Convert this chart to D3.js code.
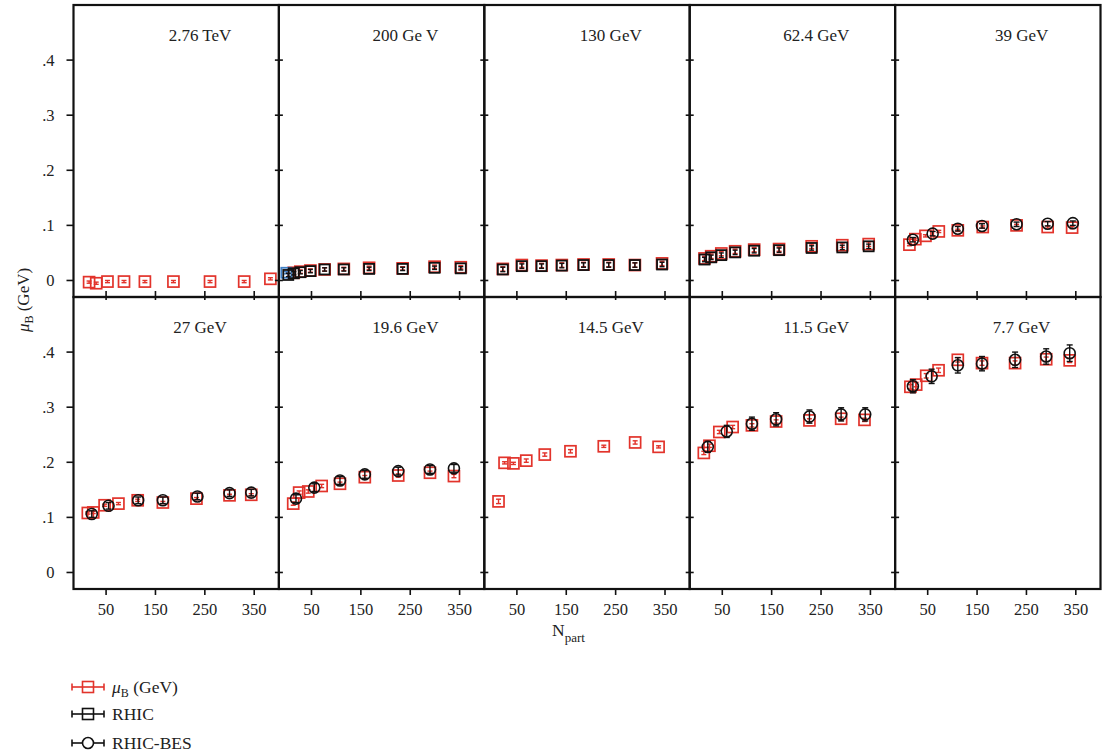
<!DOCTYPE html>
<html><head><meta charset="utf-8">
<script src="https://cdn.jsdelivr.net/npm/d3@7"></script>
<style>
body{margin:0;background:#fff}
svg{display:block}
text{font-family:"Liberation Serif","Times New Roman",serif;fill:#222}
</style>
</head><body><svg id="c" width="1103" height="756"></svg>
<script>
// ---------- data ----------
const panelTitles = ["2.76 TeV","200 Ge V","130 GeV","62.4 GeV","39 GeV","27 GeV","19.6 GeV","14.5 GeV","11.5 GeV","7.7 GeV"];
const xTicks = [50,150,250,350];
const xTickLabels = ["50","150","250","350"];
const yTicks = [0,0.1,0.2,0.3,0.4];
const yTickLabels = ["0",".1",".2",".3",".4"];
const legendLabels = ["(GeV)","RHIC","RHIC-BES"];

// [Npart, muB, error]
const red276 = [[15.6,-0.003,0.002],[30,-0.005,0.002],[52.8,-0.002,0.002],[86.3,-0.002,0.002],[128.6,-0.002,0.002],[186.4,-0.002,0.002],[260.5,-0.002,0.002],[329.7,-0.002,0.002],[382.8,0.003,0.002]];
const red200 = [[14.1,0.014,0.003],[27.4,0.016,0.003],[47.8,0.018,0.003],[76.6,0.020,0.003],[115.5,0.021,0.003],[166.7,0.023,0.003],[234.6,0.022,0.003],[299.3,0.025,0.003],[352.4,0.024,0.003]];
const rhic200 = [[3,0.010,0.003],[14.1,0.013,0.003],[27.4,0.015,0.003],[47.8,0.017,0.003],[76.6,0.020,0.003],[115.5,0.020,0.003],[166.7,0.021,0.003],[234.6,0.021,0.003],[299.3,0.023,0.003],[352.4,0.022,0.003]];
const pp200 = [[-1,0.014,0.002]];
const red130 = [[21.5,0.021,0.004],[60,0.028,0.004],[100,0.027,0.004],[141,0.028,0.004],[185,0.029,0.004],[236,0.029,0.004],[289,0.028,0.004],[344,0.031,0.004]];
const rhic130 = [[21.5,0.020,0.004],[60,0.026,0.004],[100,0.026,0.004],[141,0.027,0.004],[185,0.028,0.004],[236,0.028,0.004],[289,0.028,0.004],[344,0.029,0.004]];
const red624 = [[14,0.040,0.004],[27.5,0.044,0.004],[48,0.049,0.004],[76,0.053,0.004],[114.6,0.056,0.004],[165,0.057,0.004],[231,0.062,0.004],[293,0.064,0.004],[346.5,0.066,0.004]];
const rhic624 = [[14,0.038,0.004],[27.5,0.042,0.004],[48,0.046,0.004],[76,0.051,0.004],[114.6,0.054,0.004],[165,0.055,0.004],[231,0.059,0.004],[293,0.060,0.004],[346.5,0.062,0.004]];
const red39 = [[13,0.065,0.002],[25,0.075,0.002],[45.5,0.081,0.002],[72.5,0.089,0.002],[111,0.091,0.002],[161.5,0.097,0.002],[230,0.100,0.002],[293,0.097,0.002],[342.5,0.096,0.002]];
const bes39 = [[20,0.074,0.004],[60,0.085,0.004],[111,0.094,0.004],[160,0.099,0.004],[230,0.102,0.004],[293,0.103,0.004],[344,0.104,0.004]];
const red27 = [[13,0.108,0.002],[24,0.109,0.002],[47,0.122,0.002],[75,0.125,0.002],[114,0.131,0.002],[165,0.127,0.002],[233,0.134,0.002],[300,0.140,0.002],[344,0.141,0.002]];
const bes27 = [[21,0.106,0.006],[55,0.121,0.006],[115,0.131,0.006],[165,0.131,0.006],[235,0.138,0.006],[300,0.144,0.006],[344,0.145,0.006]];
const red196 = [[13,0.125,0.003],[25,0.145,0.003],[43.5,0.147,0.003],[70.6,0.157,0.003],[107.7,0.161,0.003],[158,0.173,0.003],[225.7,0.176,0.003],[290,0.181,0.003],[338.5,0.175,0.003]];
const bes196 = [[18.6,0.134,0.007],[55.7,0.154,0.007],[107.7,0.167,0.007],[158,0.178,0.007],[225.7,0.184,0.007],[290,0.187,0.007],[338.5,0.189,0.007]];
const red145 = [[12.8,0.129,0.004],[25,0.199,0.002],[43,0.198,0.002],[69,0.203,0.003],[106.5,0.214,0.003],[158.5,0.220,0.003],[226,0.229,0.002],[289.5,0.236,0.003],[337,0.228,0.002]];
const red115 = [[12.6,0.217,0.003],[24,0.230,0.003],[44,0.255,0.003],[71,0.264,0.003],[110,0.267,0.003],[159,0.274,0.003],[226.5,0.276,0.003],[290.7,0.279,0.003],[338,0.277,0.003]];
const bes115 = [[20.6,0.228,0.010],[59,0.256,0.011],[110,0.270,0.012],[159,0.278,0.012],[226.5,0.283,0.012],[290.7,0.287,0.012],[339.5,0.287,0.012]];
const red77 = [[15,0.337,0.004],[26.7,0.341,0.004],[47,0.357,0.004],[72,0.367,0.004],[111,0.386,0.004],[160,0.380,0.004],[227,0.380,0.004],[290,0.387,0.004],[337.6,0.385,0.004]];
const bes77 = [[20,0.338,0.012],[58,0.356,0.013],[111,0.376,0.014],[160,0.379,0.013],[227,0.386,0.014],[290,0.392,0.014],[337.6,0.398,0.015]];

const redSeries  = [red276, red200, red130, red624, red39, red27, red196, red145, red115, red77];
const rhicSeries = [[], rhic200, rhic130, rhic624, [], [], [], [], [], []];
const besSeries  = [[], [], [], [], bes39, bes27, bes196, [], bes115, bes77];
const ppSeries   = [[], pp200, [], [], [], [], [], [], [], []];

// ---------- layout ----------
const RED = "#e2332b", BLACK = "#111", BLUE = "#3f7fc4";
const X0 = 73.5, Y0 = 5, PW = 205.4, PH = 292;
const svg = d3.select("#c");
const x = d3.scaleLinear().domain([-16, 400]).range([0, PW]);
const y = d3.scaleLinear().domain([-0.03, 0.5]).range([PH, 0]);

function errBars(g, data, color, cap) {
  g.selectAll(null).data(data).enter().append("line")
    .attr("x1", d => x(d[0])).attr("x2", d => x(d[0]))
    .attr("y1", d => y(d[1] - d[2])).attr("y2", d => y(d[1] + d[2]))
    .attr("stroke", color).attr("stroke-width", 1.4);
  [-1, 1].forEach(s => {
    g.selectAll(null).data(data).enter().append("line")
      .attr("x1", d => x(d[0]) - cap).attr("x2", d => x(d[0]) + cap)
      .attr("y1", d => y(d[1] + s * d[2])).attr("y2", d => y(d[1] + s * d[2]))
      .attr("stroke", color).attr("stroke-width", 1.4);
  });
}
function squares(g, data, color, size, sw) {
  g.selectAll(null).data(data).enter().append("rect")
    .attr("x", d => x(d[0]) - size / 2).attr("y", d => y(d[1]) - size / 2)
    .attr("width", size).attr("height", size)
    .attr("fill", "none").attr("stroke", color).attr("stroke-width", sw);
  errBars(g, data, color, 2.5);
}
function circles(g, data, color, r) {
  g.selectAll(null).data(data).enter().append("circle")
    .attr("cx", d => x(d[0])).attr("cy", d => y(d[1])).attr("r", r)
    .attr("fill", "none").attr("stroke", color).attr("stroke-width", 1.6);
  errBars(g, data, color, 3);
}

panelTitles.forEach((title, i) => {
  const col = i % 5, row = Math.floor(i / 5);
  const g = svg.append("g").attr("transform", `translate(${X0 + col * PW},${Y0 + row * PH})`);

  yTicks.forEach(t => {
    g.append("line").attr("x1", col === 0 ? -7 : -4).attr("x2", col === 0 ? 0 : 4)
      .attr("y1", y(t)).attr("y2", y(t)).attr("stroke", BLACK).attr("stroke-width", 1.6);
  });
  xTicks.forEach(t => {
    if (row === 0) {
      g.append("line").attr("x1", x(t)).attr("x2", x(t)).attr("y1", PH - 6).attr("y2", PH + 3)
        .attr("stroke", BLACK).attr("stroke-width", 1.6);
    } else {
      g.append("line").attr("x1", x(t)).attr("x2", x(t)).attr("y1", PH).attr("y2", PH + 6)
        .attr("stroke", BLACK).attr("stroke-width", 1.6);
    }
  });
  if (col === 0) {
    yTicks.forEach((t, k) => {
      g.append("text").attr("x", -19).attr("y", y(t)).attr("dy", "0.35em")
        .attr("text-anchor", "end").attr("font-size", 16.5).text(yTickLabels[k]);
    });
  }
  if (row === 1) {
    xTicks.forEach((t, k) => {
      g.append("text").attr("x", x(t)).attr("y", PH + 26)
        .attr("text-anchor", "middle").attr("font-size", 16.5).text(xTickLabels[k]);
    });
  }
  g.append("text").attr("x", 126.5).attr("y", 36).attr("text-anchor", "middle")
    .attr("font-size", 17).text(title);

  squares(g, redSeries[i], RED, 11, 1.7);
  squares(g, ppSeries[i], BLUE, 10, 1.8);
  squares(g, rhicSeries[i], BLACK, 10, 1.8);
  circles(g, besSeries[i], BLACK, 5.5);

  g.append("rect").attr("x", 0).attr("y", 0).attr("width", PW).attr("height", PH)
    .attr("fill", "none").attr("stroke", BLACK).attr("stroke-width", 2.2);
});

const yl = svg.append("text").attr("transform", "translate(29,300) rotate(-90)")
  .attr("text-anchor", "middle").attr("font-size", 17);
yl.append("tspan").attr("font-style", "italic").text("μ");
yl.append("tspan").attr("font-size", 12).attr("dy", 4).text("B");
yl.append("tspan").attr("dy", -4).text(" (GeV)");

const xl = svg.append("text").attr("x", 552).attr("y", 636).attr("font-size", 17.5);
xl.append("tspan").text("N");
xl.append("tspan").attr("font-size", 13).attr("dy", 6).text("part");

const legY = [687, 714, 743];
const legColors = [RED, BLACK, BLACK];
legY.forEach((ly, k) => {
  const lg = svg.append("g").attr("transform", `translate(88,${ly})`);
  const c = legColors[k];
  lg.append("line").attr("x1", -16).attr("x2", 16).attr("y1", 0).attr("y2", 0).attr("stroke", c).attr("stroke-width", 1.6);
  [-16, 16].forEach(e => lg.append("line").attr("x1", e).attr("x2", e).attr("y1", -3.5).attr("y2", 3.5).attr("stroke", c).attr("stroke-width", 1.6));
  if (k < 2) {
    lg.append("rect").attr("x", -5.5).attr("y", -5.5).attr("width", 11).attr("height", 11)
      .attr("fill", "none").attr("stroke", c).attr("stroke-width", 1.6);
  } else {
    lg.append("circle").attr("r", 5.5).attr("fill", "#fff").attr("stroke", c).attr("stroke-width", 1.6);
  }
  const t = lg.append("text").attr("x", 24).attr("y", 6).attr("font-size", 17.5);
  if (k === 0) {
    t.append("tspan").attr("font-style", "italic").text("μ");
    t.append("tspan").attr("font-size", 12).attr("dy", 4).text("B");
    t.append("tspan").attr("dy", -4).text(" " + legendLabels[0]);
  } else {
    t.text(legendLabels[k]);
  }
});
</script>
</body></html>
